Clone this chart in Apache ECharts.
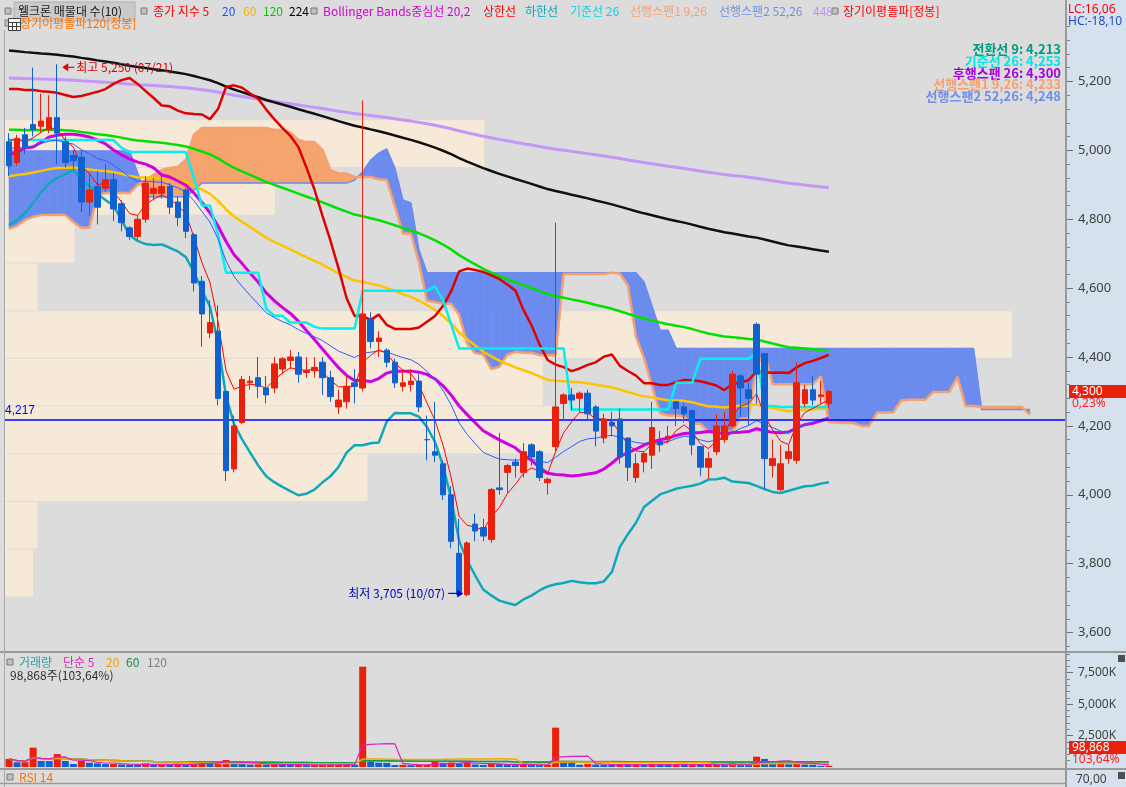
<!DOCTYPE html>
<html><head><meta charset="utf-8">
<script src="https://cdn.jsdelivr.net/npm/echarts@6/dist/echarts.min.js"></script>
<style>html,body{margin:0;padding:0;background:#dcdcdc;overflow:hidden}#c{width:1126px;height:787px}</style>
</head><body><div id="c"></div>
<script>
// ---------------- DATA ----------------
const N_SLOTS = 132;           // 103 trading days + 26 future slots for the cloud
const opens = [5025,4965,5045,5075,5070,5060,5095,5025,4985,4980,4850,4895,4890,4915,4845,4775,4750,4800,4875,4875,
 4895,4850,4885,4755,4620,4470,4475,4300,4075,4210,4325,4340,4310,4310,4365,4390,4400,4355,4360,4385,
 4340,4255,4270,4325,4310,4510,4445,4420,4385,4315,4320,4330,4160,4125,4090,4000,3830,3710,3915,3905,
 3870,4020,4065,4095,4065,4145,4125,4035,4140,4265,4290,4280,4295,4255,4165,4210,4220,4165,4050,4095,
 4115,4155,4165,4270,4255,4245,4140,4080,4125,4160,4200,4345,4305,4495,4410,4085,4015,4105,4100,4265,
 4305,4285,4265];
const closes = [4955,5035,5010,5060,5085,5095,5050,4965,4970,4850,4885,4835,4915,4830,4790,4750,4800,4905,4890,4895,
 4835,4805,4765,4615,4525,4500,4280,4070,4200,4335,4330,4315,4290,4380,4395,4400,4350,4360,4370,4340,
 4285,4275,4315,4315,4525,4445,4455,4385,4325,4325,4330,4255,4160,4115,4000,3865,3710,3860,3895,3880,
 4015,4015,4085,4085,4125,4110,4050,4045,4255,4290,4275,4295,4235,4185,4220,4200,4110,4080,4090,4120,
 4195,4145,4170,4250,4235,4145,4080,4105,4200,4200,4350,4310,4280,4350,4105,4105,4090,4125,4325,4305,
 4275,4290,4300];
const lows = [4925,4955,4990,5040,5050,5050,4960,4950,4945,4820,4810,4785,4880,4795,4765,4740,4740,4790,4855,4860,
 4815,4780,4745,4590,4430,4455,4260,4040,4065,4205,4305,4280,4265,4295,4350,4365,4325,4340,4340,4290,
 4270,4235,4250,4265,4300,4425,4400,4370,4310,4300,4300,4240,4100,4095,3985,3845,3705,3705,3865,3865,
 3860,4000,4005,4050,4050,4085,4040,4000,4125,4215,4245,4240,4220,4140,4150,4170,4090,4040,4035,4065,
 4075,4125,4150,4200,4210,4115,4055,4045,4115,4150,4195,4225,4200,4265,4015,4050,4010,4090,4090,4255,
 4260,4265,4250];
const highs = [5050,5045,5065,5240,5165,5160,5250,5040,5000,5000,4935,4940,4960,4935,4855,4780,4810,4925,4920,4925,
 4905,4865,4890,4760,4635,4565,4550,4300,4230,4345,4345,4400,4345,4400,4400,4420,4415,4400,4400,4400,
 4360,4305,4345,4365,5145,4530,4475,4425,4395,4365,4365,4350,4230,4270,4100,4025,3930,3865,3945,3930,
 4020,4180,4090,4105,4150,4150,4130,4050,4790,4295,4310,4300,4305,4260,4235,4240,4250,4165,4120,4125,
 4270,4185,4200,4270,4265,4245,4140,4125,4235,4240,4360,4350,4325,4500,4410,4160,4145,4145,4385,4320,
 4345,4330,4305];
const volumes = [640000,370000,380000,1540000,480000,470000,1030000,480000,240000,480000,340000,290000,240000,250000,200000,180000,160000,290000,200000,210000,
 190000,220000,200000,260000,450000,300000,420000,560000,380000,300000,200000,220000,180000,230000,200000,170000,190000,150000,160000,170000,
 180000,200000,210000,190000,7980000,420000,340000,330000,160000,180000,150000,160000,170000,420000,330000,350000,300000,380000,200000,170000,
 260000,230000,200000,150000,190000,170000,150000,160000,3130000,380000,370000,180000,250000,200000,190000,160000,200000,170000,190000,180000,
 250000,170000,160000,240000,190000,210000,200000,220000,230000,180000,290000,200000,170000,820000,640000,250000,480000,220000,400000,200000,
 180000,95395,98868];
const priceTicks = [3600,3800,4000,4200,4400,4600,4800,5000,5200];
const volumeTicks = [2500000,5000000,7500000];
const emaPeriods = [5,20,60,120,224,448];
const emaSeeds   = [5030,5005,4925,5060,5290,5210];
const bbUpperEarly = [5178,5178,5175,5175,5172,5170,5167,5161,5155,5158,5164,5170,5178,5193,5204,5210,5193,5172,5152];
const bbMidEarly   = [4987,4995,5007,5010,5024,5039,5044,5047,5047,5044,5039,5030,5019,5001,4987,4975,4966,4960,4949];
const bbLowerEarly = [4783,4798,4818,4847,4879,4905,4920,4931,4943,4914,4897,4873,4856,4839,4798,4754,4737,4728,4725];
const kijunEarly = [5030,5030,5030,5030,5030,5030,5030,5030,5030,5030,5030,5030,5030,5030];
const span1Early = [4772,4781,4798,4807,4812,4812,4812,4812,4792,4775,4775,4870,4876,4876,4876,4876,4900,4914,4929,4943,
 4949,4952,4972,5045,5065,5065,5065,5065,5065,5065,5065,5065,5065,5059,5059,5053,5030,5024,5024,5001];
const span2Early = [4998,4998,4998,4998,4998,4998,4998,4998,4998,4998,4998,4998,4998,4998,4998,4998,4935,4865,4865,4865,
 4865,4865,4865,4885,4905,4905,4905,4905,4905,4905,4905,4905,4905,4905,4905,4905,4905,4905,4905,4905,
 4905,4905,4905,4914,4937,4972,4992,5004,4949,4856,4847,4711];
const profileLow = 3705, profileStep = 138.5;
const profileVolume = [2.8,3.2,36,54.6,53.4,100,3.2,6.9,26.8,47.6];
const refPrice = 4217;
const highMark = {idx:6, price:5250, text:'최고 5,250 (07/21)'};
const lowMark  = {idx:57, price:3705, text:'최저 3,705 (10/07)'};
const ichimokuLabels = [
  ['전환선 9: 4,213', '#009a80'], ['기준선 26: 4,253', '#00e4e4'], ['후행스팬 26: 4,300', '#a000e0'],
  ['선행스팬1 9,26: 4,233', '#f4a070'], ['선행스팬2 52,26: 4,248', '#6f8fe8']];
const currentPrice = 4300, currentChange = '0,23%';
const currentVolumeText = '98,868', volumeRatioText = '103,64%';

// ---------------- DERIVED INDICATORS ----------------
const nData = closes.length, SHIFT = 25;
const cats = Array.from({length:N_SLOTS}, (_, i) => String(i + 1));
function pad(arr){ const o = new Array(N_SLOTS).fill(null); arr.forEach((v,i)=>{o[i]=v;}); return o; }
function ema(period, seed){ const a = 2/(period+1); let v = seed; const out=[];
  for (let i=0;i<nData;i++){ if(i>0) v = a*closes[i] + (1-a)*v; out.push(+v.toFixed(2)); } return pad(out); }
const emas = emaPeriods.map((p,k)=>ema(p, emaSeeds[k]));
const bbU=[], bbM=[], bbL=[];
for (let i=0;i<nData;i++){
  if (i < bbMidEarly.length){ bbU.push(bbUpperEarly[i]); bbM.push(bbMidEarly[i]); bbL.push(bbLowerEarly[i]); continue; }
  const w = closes.slice(i-19, i+1); const m = w.reduce((s,v)=>s+v,0)/20;
  const sd = Math.sqrt(w.reduce((s,v)=>s+(v-m)*(v-m),0)/20);
  bbU.push(+(m+2*sd).toFixed(2)); bbM.push(+m.toFixed(2)); bbL.push(+(m-2*sd).toFixed(2));
}
function mid(i, n){ let hh=-Infinity, ll=Infinity; for(let k=Math.max(0,i-n+1);k<=i;k++){ if(highs[k]>hh)hh=highs[k]; if(lows[k]<ll)ll=lows[k]; } return (hh+ll)/2; }
const kijun = pad(closes.map((_,i)=> i < kijunEarly.length ? kijunEarly[i] : mid(i,26)));
const span1 = new Array(N_SLOTS).fill(null), span2 = new Array(N_SLOTS).fill(null);
span1Early.forEach((v,j)=>span1[j]=v); span2Early.forEach((v,j)=>span2[j]=v);
for (let i=0;i<nData;i++){ const j=i+SHIFT;
  if (j>=span1Early.length) span1[j] = (mid(i,9)+mid(i,26))/2;
  if (j>=span2Early.length) span2[j] = mid(i,52); }
const cloudData = [];
for (let j=0;j<N_SLOTS-1;j++){ if(span1[j]!=null&&span2[j]!=null&&span1[j+1]!=null&&span2[j+1]!=null) cloudData.push([j,span1[j],span2[j],span1[j+1],span2[j+1]]); }
const profileData = profileVolume.map((v,k)=>[0, profileLow+k*profileStep, profileLow+(k+1)*profileStep, v]);
const candleData = closes.map((c,i)=>[opens[i], c, lows[i], highs[i]]);
const UP='#e8200c', DOWN='#1060d0';
const volData = volumes.map((v,i)=>({value:v, itemStyle:{color:(i===0||v>volumes[i-1])?UP:DOWN}}));
function sma(arr,n){ return pad(arr.map((_,i)=>{ const s=Math.max(0,i-n+1); const w=arr.slice(s,i+1); return w.reduce((a,b)=>a+b,0)/w.length; })); }

// ---------------- CHART ----------------
const FK = '"Noto Sans CJK KR","Noto Sans",sans-serif';
const fmt = v => Math.round(v).toLocaleString('en-US');
const minorPrice = []; for (let v=3560; v<=5400; v+=40){ if (v%200!==0) minorPrice.push(v); }
const minorVol = []; for (let v=500000; v<=9000000; v+=500000){ if (v%2500000!==0) minorVol.push(v); }
const PROFILE_MAX_FRAC = 0.949;
const chart = echarts.init(document.getElementById('c'));
function line(name, data, color, width, xi, yi, z){ return {name, type:'line', data, xAxisIndex:xi||0, yAxisIndex:yi||0, symbol:'none', silent:true, z:z||3,
  lineStyle:{color, width}, connectNulls:false, animation:false}; }
const axisCommon = {type:'value', position:'right', splitLine:{show:false}};
chart.setOption({
  animation:false, backgroundColor:'#dcdcdc',
  grid:[{left:5, right:60, top:0, height:651}, {left:5, right:60, top:652, height:115}],
  xAxis:[{type:'category', data:cats, gridIndex:0, boundaryGap:true, show:false},
         {type:'category', data:cats, gridIndex:1, boundaryGap:true, show:false}],
  yAxis:[
    Object.assign({}, axisCommon, {gridIndex:0, min:3546.4, max:5436.6,
      axisLine:{show:true, lineStyle:{color:'#9a9a9a', width:2}},
      axisTick:{show:true, customValues:priceTicks, length:7, lineStyle:{color:'#707070'}},
      axisLabel:{show:true, customValues:priceTicks, formatter:fmt, color:'#404040', fontSize:13, margin:12, fontFamily:'"Noto Sans",sans-serif'}}),
    Object.assign({}, axisCommon, {gridIndex:0, min:3546.4, max:5436.6, axisLine:{show:false},
      axisTick:{show:true, customValues:minorPrice, length:4, lineStyle:{color:'#808080'}}, axisLabel:{show:false}}),
    Object.assign({}, axisCommon, {gridIndex:1, min:0, max:9150000,
      axisLine:{show:true, lineStyle:{color:'#9a9a9a', width:2}},
      axisTick:{show:true, customValues:volumeTicks, length:7, lineStyle:{color:'#707070'}},
      axisLabel:{show:true, customValues:volumeTicks, formatter:v=>(v/1000).toLocaleString('en-US')+'K', color:'#404040', fontSize:12, margin:12, fontFamily:'"Noto Sans",sans-serif'}}),
    Object.assign({}, axisCommon, {gridIndex:1, min:0, max:9150000, axisLine:{show:false},
      axisTick:{show:true, customValues:minorVol, length:4, lineStyle:{color:'#808080'}}, axisLabel:{show:false}})
  ],
  series:[
    {name:'매물대', type:'custom', xAxisIndex:0, yAxisIndex:0, z:1, silent:true, data:profileData, encode:{x:0, y:[1,2]},
     renderItem:(params, api)=>{ const cs=params.coordSys; const yT=api.coord([0,api.value(2)])[1], yB=api.coord([0,api.value(1)])[1];
       return {type:'rect', shape:{x:cs.x, y:yT+1, width:cs.width*PROFILE_MAX_FRAC*api.value(3)/100, height:yB-yT-1}, style:{fill:'#f6e9d8'}}; }},
    {name:'구름', type:'custom', xAxisIndex:0, yAxisIndex:0, z:2, silent:true, data:cloudData, encode:{x:0, y:[1,2,3,4]},
     renderItem:(params, api)=>{ const j=api.value(0); const a1=api.value(1),a2=api.value(2),b1=api.value(3),b2=api.value(4);
       const x0=api.coord([j,a1])[0], x1=api.coord([j+1,b1])[0]; const Y=v=>api.coord([j,v])[1];
       const ya1=Y(a1),ya2=Y(a2),yb1=Y(b1),yb2=Y(b2); const d0=a1-a2, d1=b1-b2;
       const OR='#f5a46e', BL='#6b8cee';
       const poly=(pts,up)=>({type:'polygon', shape:{points:pts}, style:{fill:up?OR:BL, stroke:up?OR:BL, lineWidth:0.6}});
       const ch=[];
       if (d0*d1<0){ const t=d0/(d0-d1); const xm=x0+(x1-x0)*t, ym=ya1+(yb1-ya1)*t;
         ch.push(poly([[x0,ya1],[xm,ym],[x0,ya2]], d0>0)); ch.push(poly([[xm,ym],[x1,yb1],[x1,yb2]], d1>0)); }
       else ch.push(poly([[x0,ya1],[x1,yb1],[x1,yb2],[x0,ya2]], (d0+d1)>=0));
       return {type:'group', children:ch}; }},
    line('선행스팬2', span2, '#6b8cee', 1.5),
    line('선행스팬1', span1, '#f5a070', 2.5),
    line('448', emas[5], '#c496f8', 3),
    line('224', emas[4], '#101010', 2.5),
    line('120', emas[3], '#00e000', 2.5),
    line('60', emas[2], '#ffc400', 2.5),
    line('상한선', pad(bbU), '#e00000', 2.5),
    line('하한선', pad(bbL), '#10a8b8', 2.5),
    line('중심선', pad(bbM), '#d000e0', 3),
    line('기준선', kijun, '#00f0f0', 2.5),
    line('20', emas[1], '#2b5cff', 1),
    line('5', emas[0], '#ff0000', 1),
    {name:'주가', type:'candlestick', xAxisIndex:0, yAxisIndex:0, z:5, data:candleData, barWidth:6, silent:true,
     itemStyle:{color:UP, color0:DOWN, borderColor:UP, borderColor0:DOWN, borderWidth:1},
     markLine:{symbol:'none', silent:true, animation:false, lineStyle:{color:'#0000ff', width:1.5, type:'solid'},
       label:{show:true, position:'insideStartTop', formatter:fmt(refPrice), color:'#0000ff', fontSize:12, distance:[0,3]},
       data:[{yAxis:refPrice}]}},
    {name:'거래량', type:'bar', xAxisIndex:1, yAxisIndex:2, data:volData, barWidth:7, silent:true, z:2},
    line('v120', sma(volumes,120), '#8a8a8a', 1.5, 1, 2, 3),
    line('v60', sma(volumes,60), '#10a040', 1.5, 1, 2, 3),
    line('v20', sma(volumes,20), '#f0a800', 1.5, 1, 2, 3),
    line('v5', sma(volumes,5), '#e020c0', 1.2, 1, 2, 4)
  ]
});

// ---------------- TEXT / DECORATION ----------------
const G = [];
const T = (x,y,text,fill,o) => G.push(Object.assign({type:'text', x, y, z:100, silent:true,
  style:Object.assign({text, fill, font:'12px '+FK, textAlign:'left', textVerticalAlign:'middle', align:'left', verticalAlign:'middle'}, (o&&o.style)||{})}, (o&&o.el)||{}));
const R = (x,y,w,h,fill,stroke,z) => G.push({type:'rect', z:z==null?90:z, silent:true, shape:{x,y,width:w,height:h}, style:{fill, stroke:stroke||null, lineWidth:1}});
const L = (x1,y1,x2,y2,stroke,w,z) => G.push({type:'line', z:z==null?95:z, silent:true, shape:{x1,y1,x2,y2}, style:{stroke, lineWidth:w}});
R(1066,0,60,787,'#d6e1ee',null,-1);
L(1066,0,1066,787,'#9a9a9a',2);
L(0,652,1126,652,'#9a9a9a',2); L(0,769,1126,769,'#9a9a9a',2); L(0,783.5,1066,783.5,'#9a9a9a',1.5);
L(4.5,30,4.5,787,'#a8a8a8',1);
// legend row 1
R(14,2,121,19,'#cacaca','#b0b0b0');
[[8,11],[144,11],[314,11],[835,11],[8,23],[10,662],[10,777]].forEach(p=>R(p[0]-3,p[1]-3,6,6,'#c0c0c0','#7a7a7a'));
[['웰크론 매물대 수(10)',18,'#202020'],['종가 지수 5',153,'#ff0000'],['20',222,'#2050ff'],['60',243,'#f0b400'],['120',263,'#00c800'],
 ['224',289,'#000000'],['Bollinger Bands중심선 20,2',323,'#d000d0'],['상한선',483,'#ff0000'],['하한선',525,'#00a8c0'],
 ['기준선 26',570,'#00d8e8'],['선행스팬1 9,26',630,'#f4a070'],['선행스팬2 52,26',719,'#7090e8'],['448',813,'#c090f8'],
 ['장기이평돌파[정봉]',843,'#ff0000']].forEach(a=>T(a[1],11,a[0],a[2]));
T(20,23,'장기이평돌파120[정봉]','#ff7000');
// table icon
R(8.5,18.5,12,12,'#ffffff','#404040',96); L(8.5,22.5,20.5,22.5,'#404040',1,97); L(8.5,26.5,20.5,26.5,'#404040',1,97); L(12.5,22.5,12.5,30.5,'#404040',1,97); L(16.5,22.5,16.5,30.5,'#404040',1,97);
T(1068,10,'LC:16,06','#ff0000',{style:{font:'12px "Noto Sans",sans-serif'}});
T(1068,22,'HC:-18,10','#1e4fc0',{style:{font:'12px "Noto Sans",sans-serif'}});
ichimokuLabels.forEach((a,k)=>T(1061,49+k*11.8,a[0],a[1],{style:{textAlign:'right', align:'right', font:'bold 13px '+FK}}));
// volume panel texts
[['거래량',19,'#30a0a8'],['단순 5',63,'#e020c0'],['20',106,'#f0a000'],['60',126,'#109040'],['120',147,'#808080']].forEach(a=>T(a[1],662,a[0],a[2]));
T(10,675,currentVolumeText+'주('+volumeRatioText+')','#303030');
T(19,777,'RSI 14','#ff7000');
R(1069,741,57,13,'#e8200c',null,96); T(1072,747.5,currentVolumeText,'#ffffff',{style:{font:'12px "Noto Sans",sans-serif'}, el:{z:101}});
T(1072,760,volumeRatioText,'#ff2020',{style:{font:'12px "Noto Sans",sans-serif'}});
T(1076,780,'70,00','#404040',{style:{font:'12px "Noto Sans",sans-serif'}});
R(1118,655,7,7,'#505050',null,96); R(1118,772,7,7,'#505050',null,96);
// data-anchored labels
const px = (i,v) => chart.convertToPixel({xAxisIndex:0, yAxisIndex:0}, [i, v]);
const cp = px(nData-1, currentPrice);
R(1069, cp[1]-6.5, 57, 13, '#e8200c', null, 96);
T(1072, cp[1], fmt(currentPrice), '#ffffff', {style:{font:'12px "Noto Sans",sans-serif'}, el:{z:101}});
T(1072, cp[1]+12, currentChange, '#ff2020', {style:{font:'12px "Noto Sans",sans-serif'}});
const hp = px(highMark.idx, highMark.price);
G.push({type:'polygon', z:100, silent:true, shape:{points:[[hp[0]+5,hp[1]+3],[hp[0]+11,hp[1]-1],[hp[0]+11,hp[1]+7]]}, style:{fill:'#e00000'}});
L(hp[0]+11,hp[1]+3,hp[0]+17,hp[1]+3,'#e00000',1.2,100);
T(hp[0]+19, hp[1]+3, highMark.text, '#e00000');
const lp = px(lowMark.idx, lowMark.price);
G.push({type:'polygon', z:100, silent:true, shape:{points:[[lp[0]-4,lp[1]-3],[lp[0]-10,lp[1]-7],[lp[0]-10,lp[1]+1]]}, style:{fill:'#0000e0'}});
L(lp[0]-19,lp[1]-3,lp[0]-10,lp[1]-3,'#0000e0',1.2,100);
T(lp[0]-22, lp[1]-3, lowMark.text, '#0000c0', {style:{textAlign:'right', align:'right'}});
chart.setOption({graphic:{elements:G}});
</script></body></html>
